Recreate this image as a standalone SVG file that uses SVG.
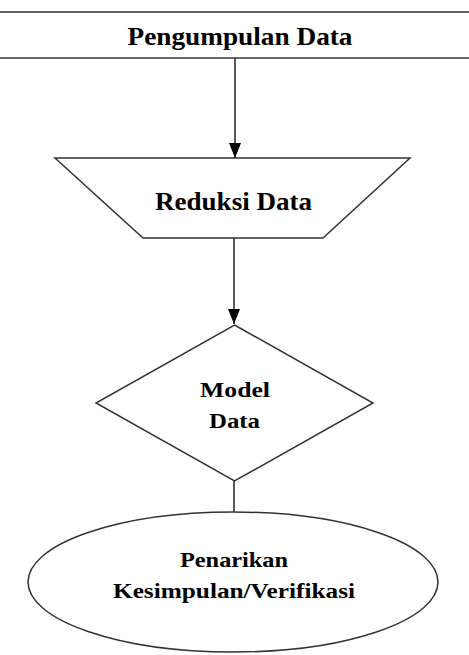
<svg xmlns="http://www.w3.org/2000/svg" width="469" height="655" viewBox="0 0 469 655">
  <defs>
    <style>
      .shape { fill: #ffffff; stroke: #333333; stroke-width: 1.5; }
      .link { fill: none; stroke: #222222; stroke-width: 1.5; }
      .label { font-family: "Liberation Serif", "Times New Roman", serif; font-weight: bold; fill: #000000; text-anchor: middle; }
    </style>
    <marker id="arrow" viewBox="0 0 12 15" refX="12" refY="6" markerWidth="12" markerHeight="15" markerUnits="userSpaceOnUse" orient="auto">
      <path d="M0,0 L15,6 L0,12 Z" fill="#000000" transform="scale(0.8,1)"/>
    </marker>
    <marker id="head" viewBox="0 0 15 12" refX="15" refY="6" markerWidth="15" markerHeight="12" markerUnits="userSpaceOnUse" orient="auto">
      <path d="M0,0 L15,6 L0,12 Z" fill="#000000"/>
    </marker>
  </defs>

  <!-- connectors -->
  <g id="connectors">
    <line class="link" x1="235" y1="58" x2="235" y2="158" marker-end="url(#head)"/>
    <line class="link" x1="234" y1="238" x2="234" y2="324" marker-end="url(#head)"/>
    <line class="link" x1="234" y1="472" x2="234" y2="512"/>
  </g>

  <!-- Pengumpulan Data -->
  <g id="node-pengumpulan">
    <rect class="shape" x="-2" y="12" width="473" height="46"/>
    <text class="label" x="240" y="45" font-size="26" textLength="225" lengthAdjust="spacingAndGlyphs">Pengumpulan Data</text>
  </g>

  <!-- Reduksi Data -->
  <g id="node-reduksi">
    <polygon class="shape" points="55,158 410,158 323,238 143,238"/>
    <text class="label" x="233.5" y="210" font-size="26" textLength="157" lengthAdjust="spacingAndGlyphs">Reduksi Data</text>
  </g>

  <!-- Model Data -->
  <g id="node-model">
    <polygon class="shape" points="234.5,325 373,403 234.5,481 96,403"/>
    <text class="label" x="235" y="397" font-size="22" textLength="70" lengthAdjust="spacingAndGlyphs">Model</text>
    <text class="label" x="234.5" y="428" font-size="22" textLength="51" lengthAdjust="spacingAndGlyphs">Data</text>
  </g>

  <!-- Penarikan Kesimpulan/Verifikasi -->
  <g id="node-penarikan">
    <ellipse class="shape" cx="233" cy="582" rx="205" ry="70"/>
    <text class="label" x="234" y="567" font-size="22" textLength="108" lengthAdjust="spacingAndGlyphs">Penarikan</text>
    <text class="label" x="234" y="598" font-size="22" textLength="242" lengthAdjust="spacingAndGlyphs">Kesimpulan/Verifikasi</text>
  </g>
</svg>
